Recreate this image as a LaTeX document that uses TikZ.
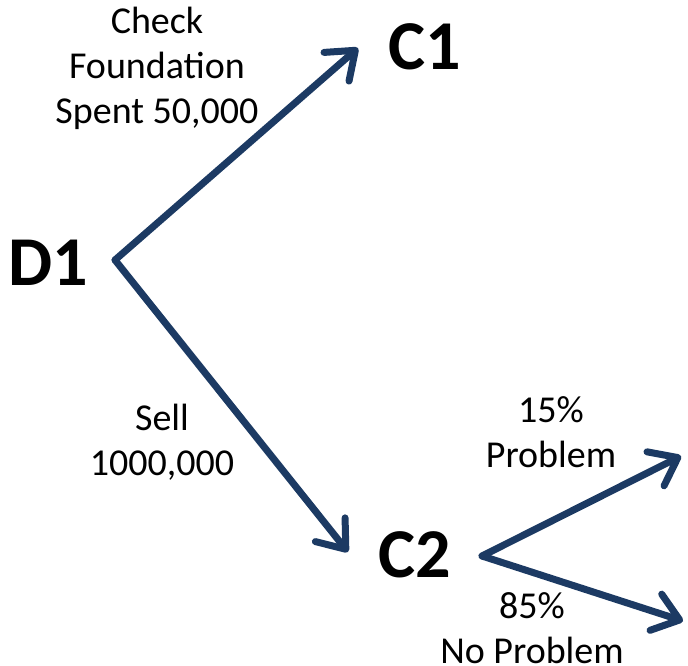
\documentclass[tikz,border=0pt]{standalone}
\usepackage{fontspec}
\setmainfont{Carlito}
\usetikzlibrary{arrows.meta}
\definecolor{navy}{HTML}{1C3A63}
\begin{document}
\begin{tikzpicture}[x=1pt,y=-1pt,
  branch/.style={draw=navy,line width=7pt,line cap=round,line join=round,
    -{Straight Barb[length=25pt,width=38pt,round,line width=7pt]}},
  statelabel/.style={font=\fontsize{70}{70}\selectfont\bfseries,inner sep=0pt},
  edgelabel/.style={font=\fontsize{38}{45}\selectfont,align=center,inner sep=0pt}]
\useasboundingbox (0,0) rectangle (688,665);
% decision and chance nodes
\node[statelabel] (d1) at (48,263) {D1};
\node[statelabel] (c1) at (425,47) {C1};
\node[statelabel] (c2) at (415,555) {C2};
% branch end points
\coordinate (d1o) at (115,260);
\coordinate (c1t) at (358,48);
\coordinate (c2t) at (348,552);
\coordinate (c2o) at (482,556);
\coordinate (pt) at (681,456);
\coordinate (nt) at (683,621);
% branches
\draw[branch] (d1o) -- (c1t);
\draw[branch] (d1o) -- (c2t);
\draw[branch] (c2o) -- (pt);
\draw[branch] (c2o) -- (nt);
% branch labels
\node[edgelabel] (lc1) at (157,68) {Check\\Foundation\\Spent 50,000};
\node[edgelabel] (lsell) at (162,442) {Sell\\1000,000};
\node[edgelabel] (lp) at (551,432) {15\%\\Problem};
\node[edgelabel] (lnp) at (532,628) {85\%\\No Problem};
\end{tikzpicture}
\end{document}
